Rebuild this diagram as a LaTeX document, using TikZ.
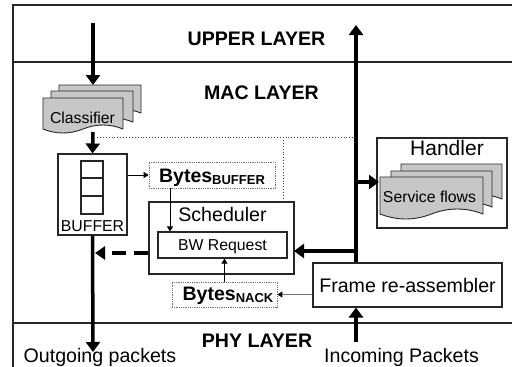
\documentclass[tikz,border=0pt]{standalone}
\usepackage{fontspec}
\setmainfont{Liberation Sans}
\usetikzlibrary{arrows.meta}
\newcommand\docpage[5]{%
  \filldraw[page] (#1,#2) -- (#1+#3,#2) -- (#1+#3,#2+#4)
    .. controls (#1+#3-#3/6,#2+#4-1.33*#5) and (#1+#3-#3/3,#2+#4-1.33*#5) .. (#1+#3/2,#2+#4)
    .. controls (#1+#3/3,#2+#4+1.33*#5) and (#1+#3/6,#2+#4+1.33*#5) .. (#1,#2+#4) -- cycle;}
\begin{document}
\begin{tikzpicture}[x=1pt,y=-1pt,
  big/.style={font=\fontsize{19.6}{22}\selectfont},
  small/.style={font=\fontsize{15.8}{18}\selectfont},
  layer/.style={font=\fontsize{19.6}{22}\selectfont\bfseries, anchor=base, inner sep=0pt},
  box/.style={draw=black!85, line width=1.1pt, inner sep=0pt},
  dotbox/.style={draw=black!55, line width=0.8pt, densely dotted, inner sep=0pt},
  frameline/.style={draw=black!85, line width=1.3pt},
  thickarrow/.style={line width=3.5pt, -{Triangle[length=10pt,width=14pt]}},
  thinarrow/.style={line width=0.9pt, -{Triangle[length=5pt,width=6pt]}},
  dotline/.style={line width=0.9pt, dotted, black!75},
  page/.style={fill=black!22, draw=black!85, line width=0.9pt},
]
\useasboundingbox (0,0) rectangle (512,367);
% layer frame
\draw[frameline] (13,367) -- (13,5) -- (512,5);
\draw[frameline] (13,62) -- (512,62);
\draw[frameline] (13,323) -- (512,323);
\node[layer] (upper) at (256.5,45) {UPPER LAYER};
\node[layer] (mac) at (261.5,99) {MAC LAYER};
\node[layer] (phy) at (257,347) {PHY LAYER};
% classifier pages
\docpage{59}{85}{82}{28}{4}
\docpage{51}{91}{82}{31}{4}
\docpage{43}{98}{80}{31}{4}
\node[small, inner sep=0pt] (classifier) at (82.5,117.5) {Classifier};
% handler
\node[box, minimum width=130pt, minimum height=90pt] (handler) at (442,183) {};
\node[font=\fontsize{21}{24}\selectfont, inner sep=0pt] (handlertxt) at (447,147.5) {Handler};
\docpage{401}{164}{101}{35}{5}
\docpage{391}{171}{101}{36}{5}
\docpage{380}{177}{103}{37}{5}
\node[small, inner sep=0pt] (svc) at (429.5,197) {Service flows};
% buffer
\node[box, minimum width=69pt, minimum height=81pt] (buffer) at (92.5,194.5) {};
\draw[box] (81,161) rectangle (103,214);
\draw[box] (81,178) -- (103,178);
\draw[box] (81,196) -- (103,196);
\node[small, anchor=base, inner sep=0pt] (buftxt) at (92.5,231) {BUFFER};
% bytes buffer
\node[dotbox, minimum width=126pt, minimum height=26pt] (bytesbuf) at (212,175) {};
\node[anchor=base, inner sep=0pt, font=\fontsize{19.5}{22}\selectfont\bfseries] (bbtxt) at (212,182)
  {Bytes\raisebox{-2pt}{\fontsize{13}{14}\selectfont BUFFER}};
% scheduler
\node[box, minimum width=145pt, minimum height=72pt] (scheduler) at (221.5,238) {};
\node[big, inner sep=0pt] (schtxt) at (222.5,214.5) {Scheduler};
\node[box, minimum width=129pt, minimum height=26pt] (bwreq) at (222.5,245) {};
\node[small, anchor=base, inner sep=0pt] (bwtxt) at (222.5,250.5) {BW Request};
% bytes nack
\node[dotbox, minimum width=105pt, minimum height=25pt] (bytesnack) at (224.5,294.5) {};
\node[anchor=base, inner sep=0pt, font=\fontsize{19.5}{22}\selectfont\bfseries] (bntxt) at (228,300)
  {Bytes\raisebox{-2pt}{\fontsize{13}{14}\selectfont NACK}};
% frame re-assembler
\node[box, big, minimum width=189pt, minimum height=44pt] (frame) at (407.5,285) {Frame re-assembler};
% bottom texts
\node[big, anchor=base, inner sep=0pt] (outgoing) at (100,362) {Outgoing packets};
\node[big, anchor=base, inner sep=0pt] (incoming) at (401.5,362) {Incoming Packets};
% coordinates
\coordinate (upsrc) at (93,23);
\coordinate (clstop) at (93,85);
\coordinate (clsbot) at (93,132);
\coordinate (bus) at (356,25);
\coordinate (schin) at (294,251);
\coordinate (svcin) at (379,182);
\coordinate (schout) at (148,253);
\coordinate (outjoin) at (95,253);
\coordinate (outtip) at (93,352);
\coordinate (insrc) at (356,342);
\coordinate (dotstart) at (97,137);
\coordinate (dotend) at (354,137);
\coordinate (dotmid) at (283,137);
% dotted lines
\draw[dotline] (dotstart) -- (dotend);
\draw[dotline] (dotmid) -- (dotmid |- scheduler.north);
% thick arrows
\draw[thickarrow] (upsrc) -- (clstop);
\draw[thickarrow] (clsbot) -- (buffer.north);
\draw[thickarrow] (buffer.south) -- (outtip);
\draw[thickarrow] (frame.north -| bus) -- (bus);
\draw[thickarrow] (bus |- schin) -- (schin);
\draw[thickarrow] (bus |- svcin) -- (svcin);
\draw[thickarrow] (insrc) -- (frame.south -| insrc);
\draw[line width=4pt, dash pattern=on 14pt off 8pt, -{Triangle[length=10pt,width=13pt]}] (schout) -- (outjoin);
% thin arrows
\draw[thinarrow] (buffer.east |- bytesbuf.west) -- (bytesbuf.west);
\draw[thinarrow] ([xshift=-42pt]bytesbuf.south) -- ([xshift=-42pt]bytesbuf.south |- bwreq.north);
\draw[thinarrow] (bytesnack.north) -- (bytesnack.north |- bwreq.south);
\draw[line width=0.9pt, draw=black!55, -{Triangle[length=5pt,width=6pt,color=black]}] (frame.west |- bytesnack.east) -- (bytesnack.east);
\end{tikzpicture}
\end{document}
